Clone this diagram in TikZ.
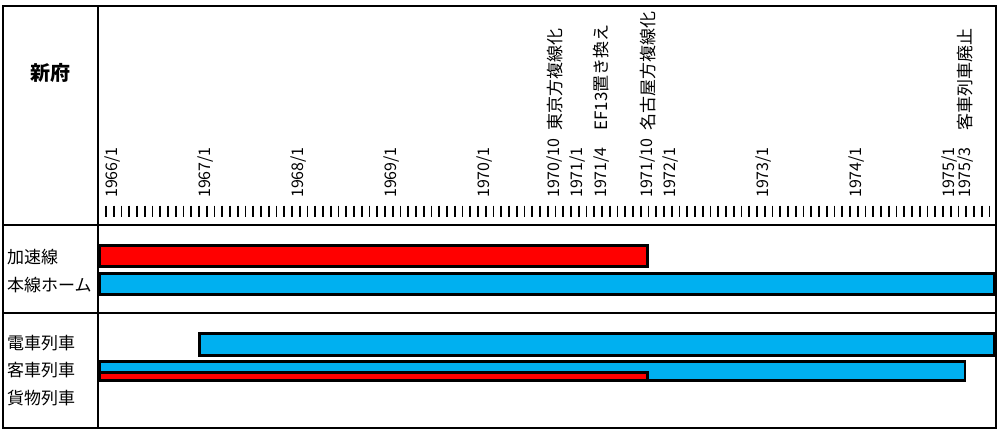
\documentclass[tikz,border=0pt]{standalone}
\usepackage{fontspec}
\setmainfont{Noto Sans CJK JP}
\definecolor{barred}{HTML}{FF0000}
\definecolor{barblue}{HTML}{00B0F0}
\tikzset{
  datelabel/.style={rotate=90,anchor=west,inner sep=0pt,font=\fontsize{16}{16}\selectfont},
  eventlabel/.style={rotate=90,anchor=west,inner sep=0pt,font=\fontsize{17}{17}\selectfont},
  rowlabel/.style={anchor=west,inner sep=0pt,font=\fontsize{17}{17}\selectfont},
  redbar/.style={draw=black,line width=2.6pt,fill=barred},
  bluebar/.style={draw=black,line width=2.6pt,fill=barblue},
  frameline/.style={line width=1.8pt},
}
\begin{document}
\begin{tikzpicture}[x=1pt,y=-1pt]
\useasboundingbox (0,0) rectangle (1000,436);
%% frame
 \draw [frameline] (3,6) rectangle (996,428);
 \draw [frameline] (98,6) -- (98,428);
 \draw [frameline] (3,225) -- (996,225);
 \draw [frameline] (3,313) -- (996,313);
%% month ticks
 \foreach \i in {0,...,114}
  \draw [line width=1.7pt] ({106+7.75*\i},205.5) -- ({106+7.75*\i},216.5);
%% dates
 \foreach \m/\yr/\mo in {0/1966/1,12/1967/1,24/1968/1,36/1969/1,48/1970/1,57/1970/10,60/1971/1,63/1971/4,69/1971/10,72/1972/1,84/1973/1,96/1974/1,108/1975/1,110/1975/3}
  \node (date_\m) at ({113+7.75*\m},198) [datelabel] {\yr/\mo};
%% events
 \node (event_57) at ({113+7.75*57},131) [eventlabel] {東京方複線化};
 \node (event_63) at ({113+7.75*63},131) [eventlabel] {EF13置き換え};
 \node (event_69) at ({113+7.75*69},131) [eventlabel] {名古屋方複線化};
 \node (event_110) at ({113+7.75*110},131) [eventlabel] {客車列車廃止};
%% station
 \node (station) at (50,73) [font=\fontsize{20}{20}\selectfont\bfseries] {新府};
%% rows
 \node (row_kasoku) at (7,257) [rowlabel] {加速線};
 \node (row_honsen) at (7,285) [rowlabel] {本線ホーム};
 \node (row_densha) at (7,343) [rowlabel] {電車列車};
 \node (row_kyakusha) at (7,370) [rowlabel] {客車列車};
 \node (row_kamotsu) at (7,398) [rowlabel] {貨物列車};
%% bars
 \draw [redbar] (99.3,245.3) rectangle ({106+7.75*70-1.3},266.7);
 \draw [bluebar] (99.3,273.3) rectangle (994.7,294.7);
 \draw [bluebar] ({106+7.75*12+0.3},333.3) rectangle (994.7,355.7);
 \draw [bluebar] (99.3,361.3) rectangle ({106+7.75*111-1.3},380.7);
 \draw [redbar] (99.3,372.3) rectangle ({106+7.75*70-1.3},380.7);
%
\end{tikzpicture}
\end{document}
